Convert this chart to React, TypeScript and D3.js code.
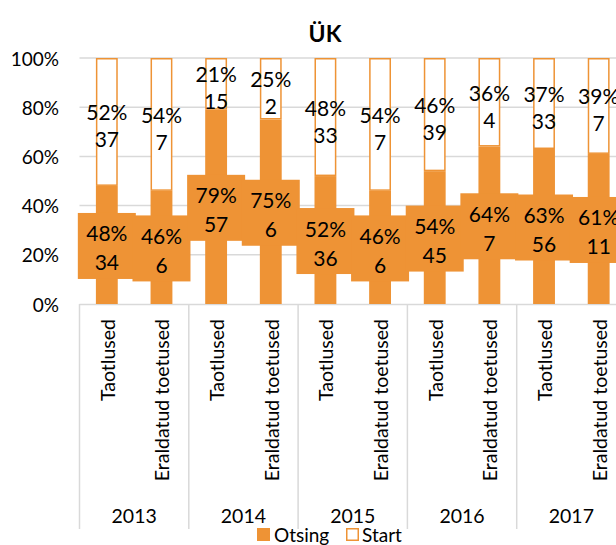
import React, { useEffect, useRef } from "react";
import * as d3 from "d3";

const years = ["2013", "2014", "2015", "2016", "2017"];
const categories = ["Taotlused", "Eraldatud toetused"];
const otsingPct = [48, 46, 79, 75, 52, 46, 54, 64, 63, 61];
const otsingCount = [34, 6, 57, 6, 36, 6, 45, 7, 56, 11];
const startPct = [52, 54, 21, 25, 48, 54, 46, 36, 37, 39];
const startCount = [37, 7, 15, 2, 33, 7, 39, 4, 33, 7];
const yTicks = [0, 20, 40, 60, 80, 100];

const ORANGE = "#EE9335";
const GRID = "#D9D9D9";
const FONT = "Lato, 'Noto Sans', sans-serif";

export default function App() {
  const ref = useRef<SVGSVGElement>(null);

  useEffect(() => {
    const svg = d3.select(ref.current);
    svg.selectAll("*").remove();

    const left = 79.5;
    const groupW = 109.3;
    const x0 = d3.scaleBand().domain(years).range([left, left + groupW * years.length]).padding(0);
    const x1 = d3.scaleBand().domain(categories).range([0, x0.bandwidth()]).paddingInner(0.6).paddingOuter(0.3);
    const y = d3.scaleLinear().domain([0, 100]).range([304, 58]);

    const rows = years.flatMap((yr, i) =>
      categories.map((c, j) => {
        const k = i * 2 + j;
        return { yr, c, op: otsingPct[k], oc: otsingCount[k], sp: startPct[k], sc: startCount[k] };
      })
    );
    const cx = (d: any) => (x0(d.yr) as number) + (x1(d.c) as number) + x1.bandwidth() / 2;

    // title
    svg.append("text")
      .attr("x", 325).attr("y", 33)
      .attr("text-anchor", "middle").attr("dominant-baseline", "central")
      .attr("font-family", FONT).attr("font-weight", "bold").attr("font-size", 23)
      .text("ÜK");

    // gridlines + y labels
    svg.append("g").selectAll("line")
      .data(yTicks.slice(1))
      .join("line")
      .attr("x1", left).attr("x2", 640)
      .attr("y1", d => y(d)).attr("y2", d => y(d))
      .attr("stroke", GRID).attr("stroke-width", 1.5);

    svg.append("g").selectAll("text")
      .data(yTicks)
      .join("text")
      .attr("x", 59).attr("y", d => y(d))
      .attr("text-anchor", "end").attr("dominant-baseline", "central")
      .attr("font-family", FONT).attr("font-size", 19)
      .text(d => d + "%");

    // category axis: baseline + group separators
    svg.append("line")
      .attr("x1", left).attr("x2", 640).attr("y1", 304.5).attr("y2", 304.5)
      .attr("stroke", GRID).attr("stroke-width", 1.5);
    svg.append("g").selectAll("line")
      .data(years)
      .join("line")
      .attr("x1", d => x0(d) as number).attr("x2", d => x0(d) as number)
      .attr("y1", 304).attr("y2", 529)
      .attr("stroke", GRID).attr("stroke-width", 1.5);

    // bars
    svg.append("g").selectAll("rect")
      .data(rows)
      .join("rect")
      .attr("x", d => cx(d) - x1.bandwidth() / 2)
      .attr("width", x1.bandwidth())
      .attr("y", d => y(d.op))
      .attr("height", d => y(0) - y(d.op))
      .attr("fill", ORANGE);

    svg.append("g").selectAll("rect")
      .data(rows)
      .join("rect")
      .attr("x", d => cx(d) - x1.bandwidth() / 2 + 0.75)
      .attr("width", x1.bandwidth() - 1.5)
      .attr("y", d => y(100) + 0.75)
      .attr("height", d => y(d.op) - y(100) - 1.5)
      .attr("fill", "white")
      .attr("stroke", ORANGE).attr("stroke-width", 1.5);

    // Otsing labels with orange boxes
    const oLab = svg.append("g").selectAll("g")
      .data(rows)
      .join("g")
      .attr("transform", d => `translate(${cx(d)},${(y(0) + y(d.op)) / 2})`);
    oLab.append("rect")
      .attr("x", -29).attr("y", -32).attr("width", 58).attr("height", 66)
      .attr("fill", ORANGE);
    oLab.append("text")
      .attr("y", -12).attr("text-anchor", "middle").attr("dominant-baseline", "central")
      .attr("font-family", FONT).attr("font-size", 21)
      .text(d => d.op + "%");
    oLab.append("text")
      .attr("y", 17).attr("text-anchor", "middle").attr("dominant-baseline", "central")
      .attr("font-family", FONT).attr("font-size", 21)
      .text(d => d.oc);

    // Start labels
    const sLab = svg.append("g").selectAll("g")
      .data(rows)
      .join("g")
      .attr("transform", d => `translate(${cx(d)},${(y(100) + y(d.op)) / 2})`);
    sLab.append("text")
      .attr("y", -10).attr("text-anchor", "middle").attr("dominant-baseline", "central")
      .attr("font-family", FONT).attr("font-size", 21)
      .text(d => d.sp + "%");
    sLab.append("text")
      .attr("y", 17).attr("text-anchor", "middle").attr("dominant-baseline", "central")
      .attr("font-family", FONT).attr("font-size", 21)
      .text(d => d.sc);

    // category labels (rotated)
    svg.append("g").selectAll("text")
      .data(rows)
      .join("text")
      .attr("transform", d => `translate(${cx(d) + 0.5},319) rotate(-90)`)
      .attr("text-anchor", "end").attr("dominant-baseline", "central")
      .attr("font-family", FONT).attr("font-size", 19.5)
      .text(d => d.c);

    // year labels
    svg.append("g").selectAll("text")
      .data(years)
      .join("text")
      .attr("x", d => (x0(d) as number) + x0.bandwidth() / 2)
      .attr("y", 515)
      .attr("text-anchor", "middle").attr("dominant-baseline", "central")
      .attr("font-family", FONT).attr("font-size", 19.5)
      .text(d => d);

    // legend
    const leg = svg.append("g");
    leg.append("rect").attr("x", 257).attr("y", 528).attr("width", 13).attr("height", 13).attr("fill", ORANGE);
    leg.append("text").attr("x", 274).attr("y", 534.5).attr("dominant-baseline", "central")
      .attr("font-family", FONT).attr("font-size", 19).text("Otsing");
    leg.append("rect").attr("x", 346.75).attr("y", 528.75).attr("width", 11.5).attr("height", 11.5)
      .attr("fill", "white").attr("stroke", ORANGE).attr("stroke-width", 1.5);
    leg.append("text").attr("x", 362).attr("y", 534.5).attr("dominant-baseline", "central")
      .attr("font-family", FONT).attr("font-size", 19).text("Start");
  }, []);

  return (
    <svg ref={ref} width={616} height={545}
      style={{ position: "absolute", left: 0, top: 0, background: "white" }} />
  );
}
